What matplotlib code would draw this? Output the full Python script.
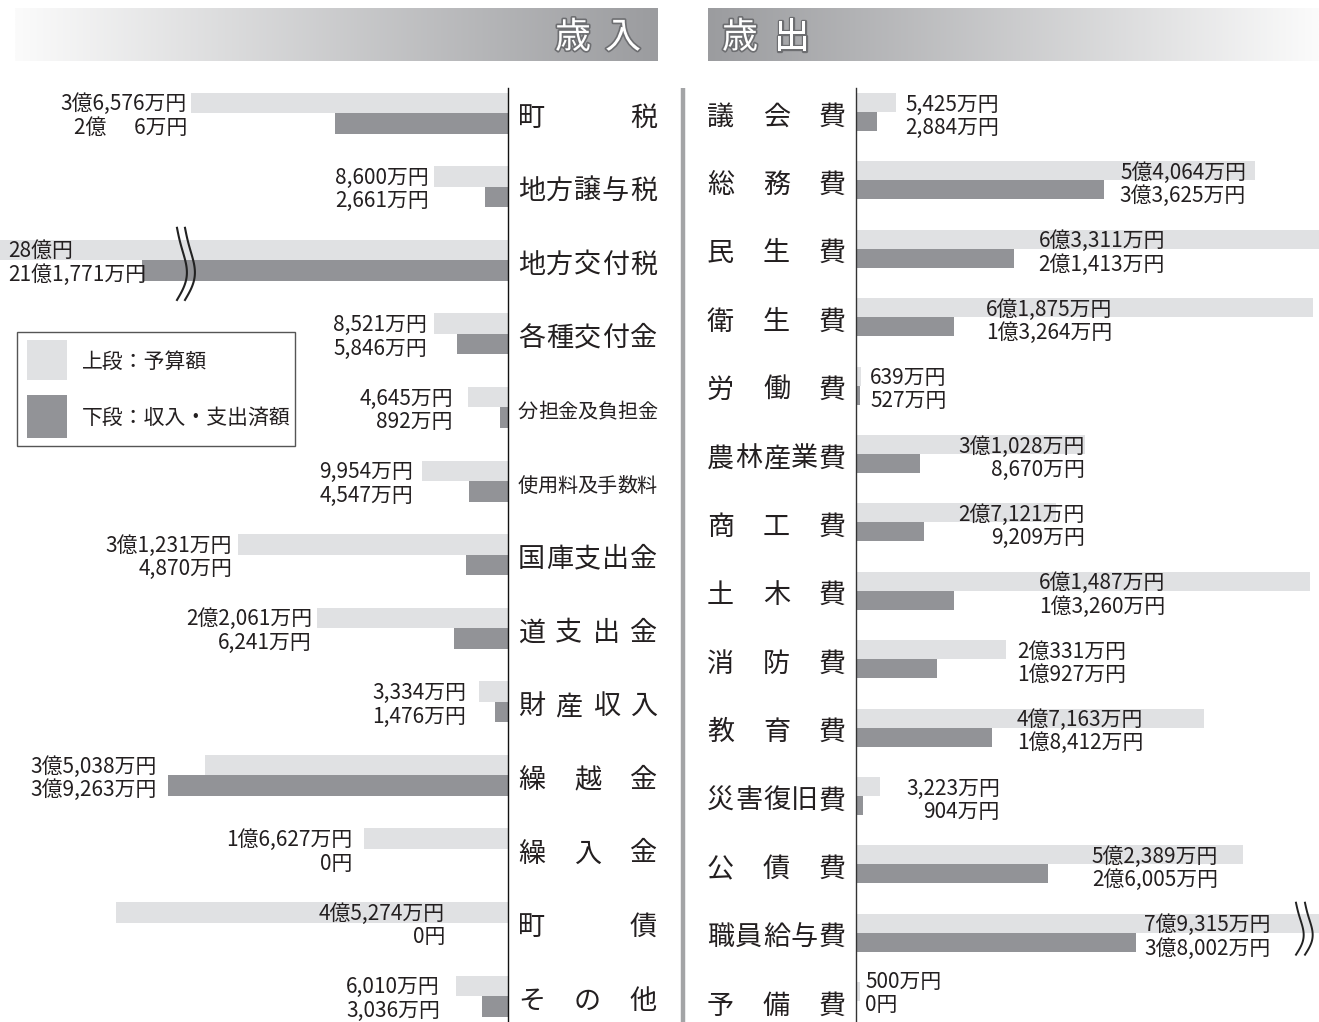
import numpy as np
import matplotlib.pyplot as plt
import matplotlib.patheffects as pe
from matplotlib.patches import Rectangle

plt.rcParams['font.family'] = ['Noto Sans CJK JP', 'DejaVu Sans']
NUM_FONT = ['Liberation Sans Narrow', 'Noto Sans CJK JP', 'DejaVu Sans']

# 歳入 (万円)
rev_items = ['町税', '地方譲与税', '地方交付税', '各種交付金', '分担金及負担金', '使用料及手数料',
             '国庫支出金', '道支出金', '財産収入', '繰越金', '繰入金', '町債', 'その他']
rev_budget = [36576, 8600, 280000, 8521, 4645, 9954, 31231, 22061, 3334, 35038, 16627, 45274, 6010]
rev_actual = [20006, 2661, 211771, 5846, 892, 4547, 4870, 6241, 1476, 39263, 0, 0, 3036]
rev_budget_txt = ['3億6,576万円', '8,600万円', '28億円', '8,521万円', '4,645万円', '9,954万円',
                  '3億1,231万円', '2億2,061万円', '3,334万円', '3億5,038万円', '1億6,627万円',
                  '4億5,274万円', '6,010万円']
rev_actual_txt = ['2億      6万円', '2,661万円', '21億1,771万円', '5,846万円', '892万円', '4,547万円',
                  '4,870万円', '6,241万円', '1,476万円', '3億9,263万円', '0円', '0円', '3,036万円']

# 歳出 (万円)
exp_items = ['議会費', '総務費', '民生費', '衛生費', '労働費', '農林産業費', '商工費', '土木費',
             '消防費', '教育費', '災害復旧費', '公債費', '職員給与費', '予備費']
exp_budget = [5425, 54064, 63311, 61875, 639, 31028, 27121, 61487, 20331, 47163, 3223, 52389, 79315, 500]
exp_actual = [2884, 33625, 21413, 13264, 527, 8670, 9209, 13260, 10927, 18412, 904, 26005, 38002, 0]
exp_budget_txt = ['5,425万円', '5億4,064万円', '6億3,311万円', '6億1,875万円', '639万円', '3億1,028万円',
                  '2億7,121万円', '6億1,487万円', '2億331万円', '4億7,163万円', '3,223万円',
                  '5億2,389万円', '7億9,315万円', '500万円']
exp_actual_txt = ['2,884万円', '3億3,625万円', '2億1,413万円', '1億3,264万円', '527万円', '8,670万円',
                  '9,209万円', '1億3,260万円', '1億927万円', '1億8,412万円', '904万円',
                  '2億6,005万円', '3億8,002万円', '0円']

# shown length of the 地方交付税 actual bar past the wavy break
kofu_actual_shown = 42300

# label anchors (万円 on each axis) and alignment
rev_lab_x = [37070, 9122, 57737, 9353, 6351, 10970, 31870, 22630, 4850, 40530, 18014, 7275, 7852]
rev_lab_ha = ['right', 'right', 'left'] + ['right'] * 10
exp_lab_x = [6640, 52846, 41870, 34690, 1897, 31030, 31030, 41870, 21816, 21816, 19512, 49050, 56230, 1220]
exp_lab_ha = ['left', 'right', 'right', 'right', 'left', 'right', 'right', 'right',
              'left', 'left', 'right', 'right', 'right', 'left']
exp_lab_dy = [0] * 13 + [-0.17]   # last pair lifted so it stays inside the picture

LIGHT = '#e0e1e3'
DARK = '#929397'
INK = '#231f20'

W, H = 1319, 1022
fig = plt.figure(figsize=(W / 100, H / 100), dpi=100)


def fax(x0, y0, x1, y1):
    return fig.add_axes([x0 / W, 1 - y1 / H, (x1 - x0) / W, (y1 - y0) / H])


bg = fax(0, 0, W, H)
bg.set_xlim(0, W)
bg.set_ylim(H, 0)
bg.axis('off')

# header bands
grad = np.linspace(0, 1, 256).reshape(1, -1)
bg.imshow(grad, extent=[15, 658, 61, 8], aspect='auto', cmap=plt.matplotlib.colors.LinearSegmentedColormap.from_list(
    'l', ['#fbfbfb', '#9b9c9f']), zorder=1)
bg.imshow(grad, extent=[708, 1319, 61, 8], aspect='auto', cmap=plt.matplotlib.colors.LinearSegmentedColormap.from_list(
    'r', ['#9b9c9f', '#fbfbfb']), zorder=1)
stroke = [pe.withStroke(linewidth=2.4, foreground='#6d6e71')]
for ch, cx in [('歳', 573), ('入', 623), ('歳', 740), ('出', 792)]:
    bg.text(cx, 38, ch, fontsize=26, color='white', ha='center', va='center',
            path_effects=stroke, zorder=2)

# separator
bg.plot([683, 683], [88, 1022], color='#a3a4a6', lw=3.2, solid_capstyle='butt')


def justified(text, x0, x1, y, size):
    w = size * 100 / 72
    n = len(text)
    for k, ch in enumerate(text):
        cx = x0 + w / 2 + k * (x1 - x0 - w) / (n - 1)
        bg.text(cx, y, ch, fontsize=size, color=INK, ha='center', va='center')


# left panel bars
axL = fax(0, 88, 508, 1022)
axL.set_xlim(58660, 0)
axL.set_ylim((1022 - 113) / 73.6, -(113 - 88) / 73.6)
hL = 20.5 / 73.6
yL = np.arange(len(rev_items))
rev_shown = list(rev_actual)
rev_shown[2] = kofu_actual_shown
axL.barh(yL - hL / 2, rev_budget, height=hL, color=LIGHT, zorder=1)
axL.barh(yL + hL / 2, rev_shown, height=hL, color=DARK, zorder=1)
for i in range(len(rev_items)):
    axL.text(rev_lab_x[i], i - hL / 2 + 0.02, rev_budget_txt[i], family=NUM_FONT, fontsize=15,
             color=INK, ha=rev_lab_ha[i], va='center', zorder=3)
    axL.text(rev_lab_x[i], i + hL / 2 + 0.06, rev_actual_txt[i], family=NUM_FONT, fontsize=15,
             color=INK, ha=rev_lab_ha[i], va='center', zorder=3)
    y = 118 + 73.6 * i
    size = 14.5 if len(rev_items[i]) > 5 else 19.5
    justified(rev_items[i], 518, 657, y, size)

# right panel bars
axR = fax(856, 88, 1319, 1022)
axR.set_xlim(0, 62740)
axR.set_ylim((1022 - 112) / 68.4, -(112 - 88) / 68.4)
hR = 19 / 68.4
yR = np.arange(len(exp_items))
axR.barh(yR - hR / 2, exp_budget, height=hR, color=LIGHT, zorder=1)
axR.barh(yR + hR / 2, exp_actual, height=hR, color=DARK, zorder=1)
for i in range(len(exp_items)):
    dy = exp_lab_dy[i]
    axR.text(exp_lab_x[i], i - hR / 2 + 0.03 + dy, exp_budget_txt[i], family=NUM_FONT, fontsize=15,
             color=INK, ha=exp_lab_ha[i], va='center', zorder=3)
    axR.text(exp_lab_x[i], i + hR / 2 + 0.09 + dy, exp_actual_txt[i], family=NUM_FONT,
             fontsize=15, color=INK, ha=exp_lab_ha[i], va='center', zorder=3)
    y = 117 + 68.4 * i
    justified(exp_items[i], 707, 846, y, 19.5)

for ax in (axL, axR):
    ax.patch.set_alpha(0)
    ax.set_xticks([])
    ax.set_yticks([])
    for s in ax.spines.values():
        s.set_visible(False)
axL.spines['right'].set_visible(True)
axL.spines['right'].set_color('#111111')
axL.spines['right'].set_linewidth(1.0)
axR.spines['left'].set_visible(True)
axR.spines['left'].set_color('#333333')
axR.spines['left'].set_linewidth(1.0)

# wavy break marks
t = np.linspace(0, 1, 60)
wave = np.sin(np.pi * t) - 0.25 * np.sin(2 * np.pi * t)
for off in (0, 8):
    xs = (508 - 177 - off) / 0.00866 - wave * 9 / 0.00866
    ys = 2 - 0.44 + t * 0.98
    axL.plot(xs, ys, color='#222222', lw=1.5, zorder=4, clip_on=False)
for off in (0, 9):
    xs = (1296 + off - 856) / 0.00738 + wave * 7 / 0.00738
    ys = 12 - 0.44 + t * 0.76
    axR.plot(xs, ys, color='#222222', lw=1.4, zorder=4, clip_on=False)

# legend
bg.add_patch(Rectangle((17, 332), 278, 114, fill=False, ec='#555555', lw=1.0))
bg.add_patch(Rectangle((27, 340), 40, 40, color=LIGHT, lw=0))
bg.add_patch(Rectangle((27, 395), 40, 43, color=DARK, lw=0))
bg.text(82, 362, '上段：予算額', fontsize=15, color=INK, va='center')
bg.text(82, 418, '下段：収入・支出済額', fontsize=15, color=INK, va='center')

fig.savefig('out.png', dpi=100, facecolor='white')
